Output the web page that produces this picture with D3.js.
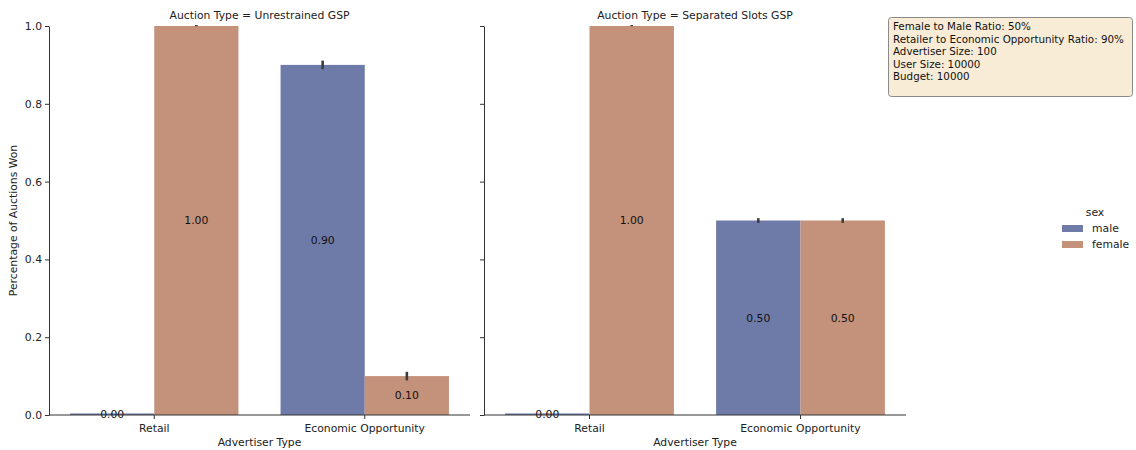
<!DOCTYPE html>
<html>
<head>
<meta charset="utf-8">
<script src="https://cdn.jsdelivr.net/npm/d3@7"></script>
<style>
  body { margin: 0; background: #fff; }
  svg { font-family: "DejaVu Sans", sans-serif; }
</style>
</head>
<body>
<svg id="chart" width="1136" height="450"></svg>
<script>
// Categories and series
const advertiserTypes = ["Retail", "Economic Opportunity"];
const sexes = ["male", "female"];
const auctionTypes = ["Unrestrained GSP", "Separated Slots GSP"];

// Mean share of auctions won, per auction type: [Retail, Economic Opportunity]
const unrestrainedMale = [0.004, 0.90];
const unrestrainedFemale = [1.00, 0.10];
const separatedMale = [0.004, 0.50];
const separatedFemale = [1.00, 0.50];

// Confidence interval half-widths
const unrestrainedMaleErr = [0.0005, 0.011];
const unrestrainedFemaleErr = [0.0005, 0.011];
const separatedMaleErr = [0.0005, 0.006];
const separatedFemaleErr = [0.0005, 0.006];

const yTicks = [0.0, 0.2, 0.4, 0.6, 0.8, 1.0];

const infoLines = [
  "Female to Male Ratio: 50%",
  "Retailer to Economic Opportunity Ratio: 90%",
  "Advertiser Size: 100",
  "User Size: 10000",
  "Budget: 10000"
];

const colors = { male: "#6e7ba8", female: "#c4917a" };
const fs = 10.8;

const panels = [
  { title: auctionTypes[0], male: unrestrainedMale, female: unrestrainedFemale,
    maleErr: unrestrainedMaleErr, femaleErr: unrestrainedFemaleErr, x0: 49, x1: 470, showY: true },
  { title: auctionTypes[1], male: separatedMale, female: separatedFemale,
    maleErr: separatedMaleErr, femaleErr: separatedFemaleErr, x0: 484, x1: 906, showY: false }
];

const svg = d3.select("#chart");
const plotTop = 26, plotBottom = 415;
const y = d3.scaleLinear().domain([0, 1]).range([plotBottom, plotTop]);

panels.forEach(p => {
  const g = svg.append("g");
  const x = d3.scaleBand().domain(advertiserTypes).range([p.x0, p.x1]).paddingInner(0.2).paddingOuter(0.1);
  const xs = d3.scaleBand().domain(sexes).range([0, x.bandwidth()]);

  const rows = [];
  advertiserTypes.forEach((a, i) => {
    rows.push({ a, sex: "male", v: p.male[i], e: p.maleErr[i] });
    rows.push({ a, sex: "female", v: p.female[i], e: p.femaleErr[i] });
  });

  g.selectAll("rect.bar").data(rows).join("rect")
    .attr("class", "bar")
    .attr("x", d => x(d.a) + xs(d.sex))
    .attr("width", xs.bandwidth())
    .attr("y", d => y(d.v))
    .attr("height", d => y(0) - y(d.v))
    .attr("fill", d => colors[d.sex]);

  // error bars
  g.selectAll("line.err").data(rows).join("line")
    .attr("class", "err")
    .attr("x1", d => x(d.a) + xs(d.sex) + xs.bandwidth() / 2)
    .attr("x2", d => x(d.a) + xs(d.sex) + xs.bandwidth() / 2)
    .attr("y1", d => y(Math.min(1, d.v + d.e)) - (d.v >= 1 ? 1 : 0))
    .attr("y2", d => y(Math.max(0, d.v - d.e)))
    .attr("stroke", "#3d3d3d")
    .attr("stroke-width", 2.6);

  // value labels at bar centre
  g.selectAll("text.val").data(rows).join("text")
    .attr("class", "val")
    .attr("x", d => x(d.a) + xs(d.sex) + xs.bandwidth() / 2)
    .attr("y", d => y(d.v / 2))
    .attr("dy", "0.35em")
    .attr("text-anchor", "middle")
    .attr("font-size", fs)
    .attr("fill", "#111")
    .text(d => d.v.toFixed(2));

  // axes
  const xAxis = d3.axisBottom(x).tickSize(4).tickSizeOuter(0);
  const gx = g.append("g").attr("transform", `translate(0,${plotBottom})`).call(xAxis);
  gx.select(".domain").attr("stroke", "#333").attr("d", `M${p.x0},0H${p.x1}`);
  gx.selectAll(".tick line").attr("stroke", "#333");
  gx.selectAll(".tick text").attr("font-size", fs).attr("fill", "#222").attr("dy", "0.9em")
    .attr("font-family", "DejaVu Sans, sans-serif");

  const yAxis = d3.axisLeft(y).tickValues(yTicks).tickSize(4).tickSizeOuter(0)
    .tickFormat(p.showY ? d3.format(".1f") : () => "");
  const gy = g.append("g").attr("transform", `translate(${p.x0},0)`).call(yAxis);
  gy.select(".domain").attr("stroke", "#333");
  gy.selectAll(".tick line").attr("stroke", "#333");
  gy.selectAll(".tick text").attr("font-size", fs).attr("fill", "#222")
    .attr("font-family", "DejaVu Sans, sans-serif");

  // titles
  g.append("text")
    .attr("x", (p.x0 + p.x1) / 2).attr("y", 19)
    .attr("text-anchor", "middle").attr("font-size", fs).attr("fill", "#222")
    .text("Auction Type = " + p.title);
  g.append("text")
    .attr("x", (p.x0 + p.x1) / 2).attr("y", 446)
    .attr("text-anchor", "middle").attr("font-size", fs).attr("fill", "#222")
    .text("Advertiser Type");
});

// y axis title
svg.append("text")
  .attr("transform", `translate(17,${(plotTop + plotBottom) / 2}) rotate(-90)`)
  .attr("text-anchor", "middle").attr("font-size", fs).attr("fill", "#222")
  .text("Percentage of Auctions Won");

// legend
const leg = svg.append("g").attr("transform", "translate(1062,0)");
leg.append("text").attr("x", 33).attr("y", 216).attr("text-anchor", "middle")
  .attr("font-size", fs).attr("fill", "#222").text("sex");
sexes.forEach((s, i) => {
  leg.append("rect").attr("x", 0).attr("y", 225 + i * 16).attr("width", 21).attr("height", 7)
    .attr("fill", colors[s]);
  leg.append("text").attr("x", 30).attr("y", 232 + i * 16)
    .attr("font-size", fs).attr("fill", "#222").text(s);
});

// parameter box
const box = svg.append("g");
box.append("rect").attr("x", 888.5).attr("y", 17.5).attr("width", 244).attr("height", 79)
  .attr("rx", 3).attr("fill", "#f8ecd7").attr("stroke", "#8a8a8a").attr("stroke-width", 1);
box.selectAll("text.info").data(infoLines).join("text")
  .attr("class", "info")
  .attr("x", 893).attr("y", (d, i) => 30 + i * 12.6)
  .attr("font-size", 10.3).attr("fill", "#111")
  .text(d => d);
</script>
</body>
</html>
